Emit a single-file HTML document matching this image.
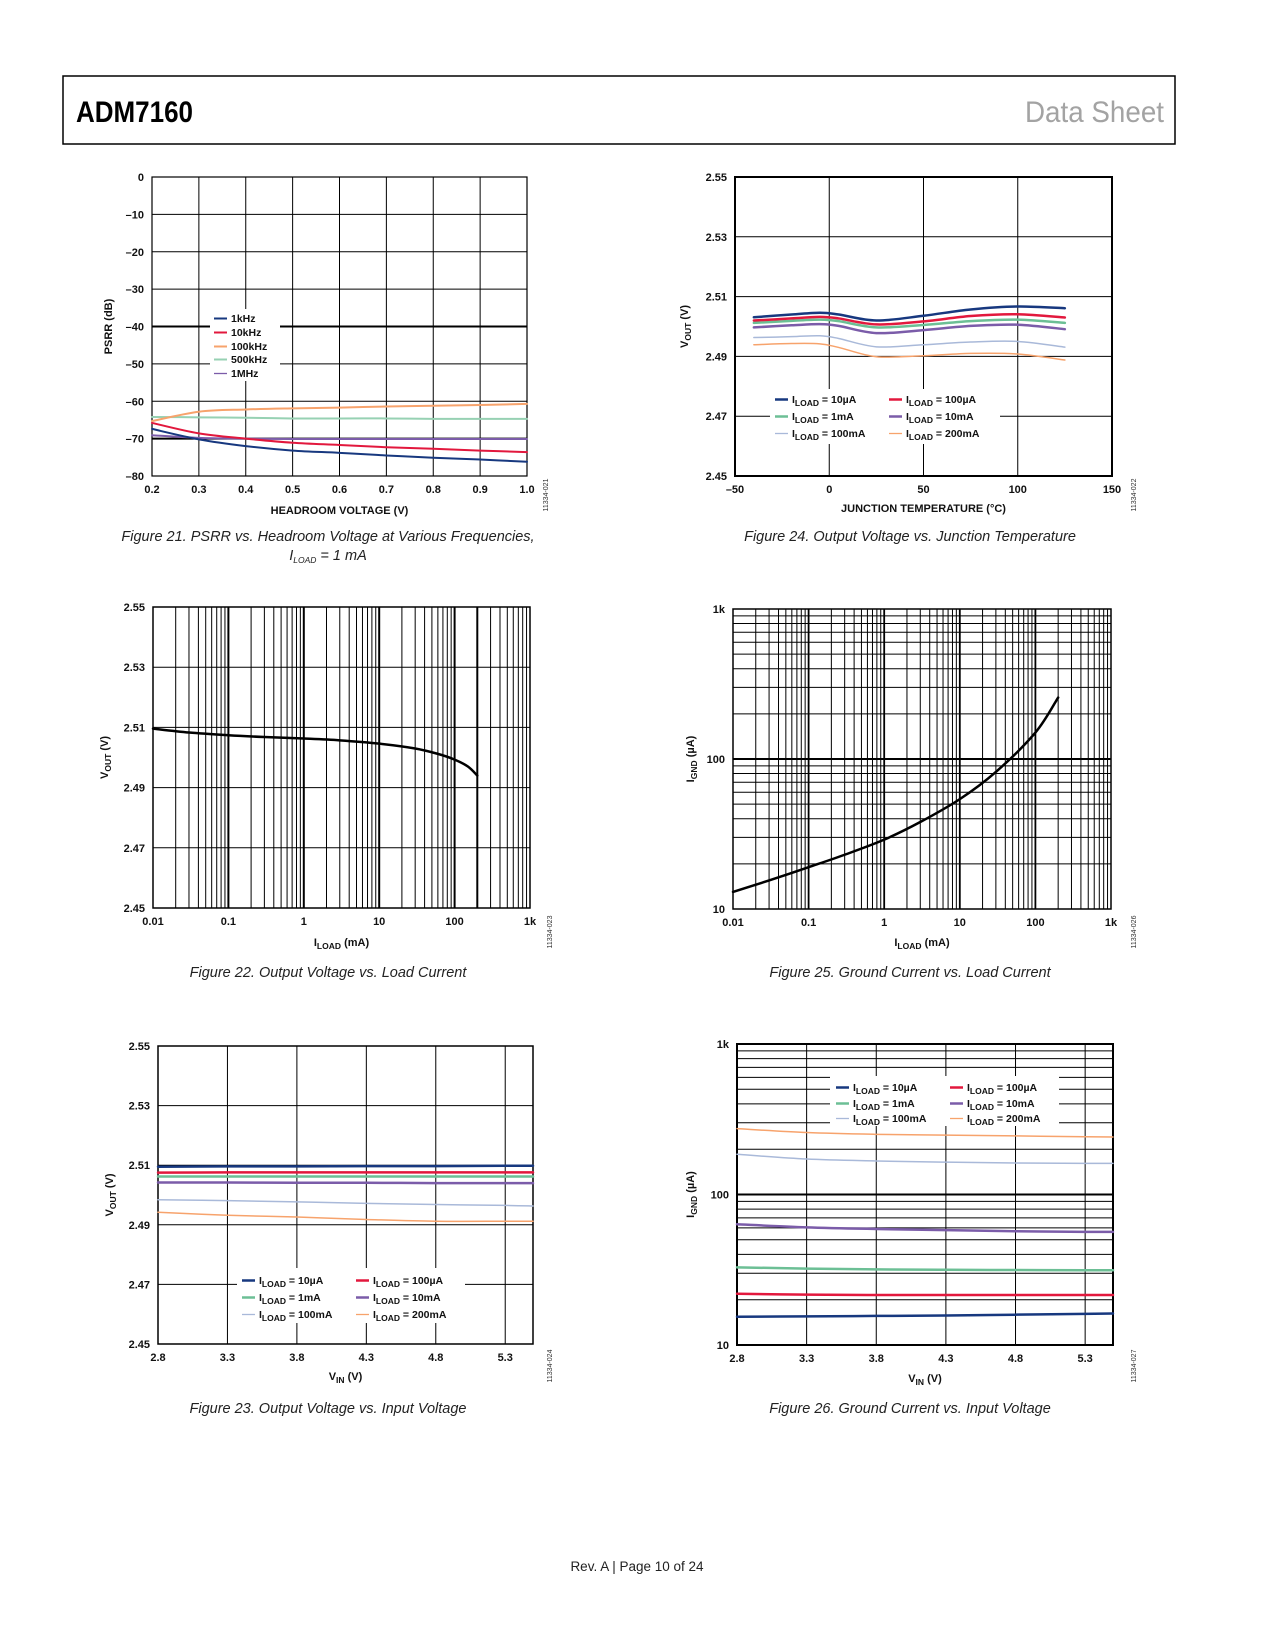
<!DOCTYPE html>
<html><head><meta charset="utf-8"><style>
html,body{margin:0;padding:0;background:#fff;}
svg{display:block;font-family:"Liberation Sans",Arial,sans-serif;}
.t{font-size:11px;font-weight:bold;fill:#111;}
.cap{font-size:14.5px;font-style:italic;fill:#222;}
.lg{font-size:10.5px;font-weight:bold;fill:#111;}
.id{font-size:7px;fill:#333;}
</style></head><body>
<svg id="page" width="1275" height="1650" viewBox="0 0 1275 1650" xmlns="http://www.w3.org/2000/svg">
<rect x="63" y="76" width="1112" height="68" fill="none" stroke="#000" stroke-width="1.5"/>
<text x="76" y="122" font-size="30" font-weight="bold" textLength="117" lengthAdjust="spacingAndGlyphs">ADM7160</text>
<text x="1164" y="122" font-size="30" fill="#a3a3a3" text-anchor="end" textLength="139" lengthAdjust="spacingAndGlyphs">Data Sheet</text>
<text x="637" y="1571" font-size="13.5" fill="#222" text-anchor="middle">Rev. A | Page 10 of 24</text>
<g id="charts"></g>
</svg>
<script>
// ---- Figure 21 data ----
const f21X = [0.2,0.3,0.4,0.5,0.6,0.7,0.8,0.9,1.0];
const f21_1k = [-67.4,-70.2,-72,-73.2,-73.8,-74.5,-75.1,-75.6,-76.2];
const f21_10k = [-65.8,-68.6,-70,-71.1,-71.7,-72.3,-72.7,-73.2,-73.6];
const f21_100k = [-65.3,-62.8,-62.2,-61.9,-61.7,-61.4,-61.2,-61,-60.7];
const f21_500k = [-64.2,-64.3,-64.4,-64.6,-64.6,-64.6,-64.7,-64.7,-64.7];
const f21_1M = [-69.1,-69.8,-70,-70.1,-70.1,-70.1,-70.1,-70.1,-70.1];
const f21YTicks = ["0","–10","–20","–30","–40","–50","–60","–70","–80"];
const f21XTicks = ["0.2","0.3","0.4","0.5","0.6","0.7","0.8","0.9","1.0"];
// ---- Figure 24 data ----
const f24X = [-40,-20,-5,5,25,50,75,100,125];
const f24_10u = [2.5031,2.5040,2.5046,2.5040,2.5020,2.5036,2.5057,2.5067,2.5061];
const f24_100u = [2.5020,2.5027,2.5032,2.5027,2.5007,2.5017,2.5035,2.5041,2.5030];
const f24_1m = [2.5012,2.5019,2.5023,2.5018,2.4997,2.5005,2.5018,2.5023,2.5012];
const f24_10m = [2.4997,2.5004,2.5008,2.5002,2.4978,2.4988,2.5002,2.5006,2.4991];
const f24_100m = [2.4963,2.4966,2.4969,2.4960,2.4932,2.4939,2.4948,2.4950,2.4931];
const f24_200m = [2.4939,2.4943,2.4942,2.4930,2.4899,2.4902,2.4910,2.4908,2.4888];
const f24XTicks = ["–50","0","50","100","150"];
const vYTicks = ["2.55","2.53","2.51","2.49","2.47","2.45"];
// ---- Figure 22 data ----
const f22X = [0.01,0.03,0.1,0.3,1,3,10,30,60,100,150,200];
const f22V = [2.5096,2.5083,2.5074,2.5068,2.5063,2.5057,2.5046,2.5030,2.5012,2.4993,2.4970,2.4940];
const logXTicks = ["0.01","0.1","1","10","100","1k"];
// ---- Figure 25 data ----
const f25X = [0.01,0.03,0.1,0.3,1,3,10,30,100,200];
const f25I = [13,15.5,19,23,29,38,54,82,150,257];
const logYTicks = ["1k","100","10"];
// ---- Figure 23 data ----
const vinX = [2.8,3.3,3.8,4.3,4.8,5.3,5.5];
const f23_10u = [2.5095,2.5096,2.5096,2.5097,2.5097,2.5098,2.5098];
const f23_100u = [2.5075,2.5076,2.5076,2.5076,2.5076,2.5076,2.5076];
const f23_1m = [2.5062,2.5062,2.5062,2.5062,2.5062,2.5062,2.5062];
const f23_10m = [2.5042,2.5042,2.5041,2.5041,2.5040,2.5040,2.5040];
const f23_100m = [2.4984,2.4981,2.4977,2.4972,2.4968,2.4965,2.4963];
const f23_200m = [2.4942,2.4932,2.4926,2.4918,2.4912,2.4912,2.4912];
const vinXTicks = ["2.8","3.3","3.8","4.3","4.8","5.3"];
// ---- Figure 26 data ----
const f26_10u = [15.4,15.5,15.6,15.7,15.9,16.1,16.2];
const f26_100u = [21.9,21.6,21.5,21.5,21.5,21.5,21.5];
const f26_1m = [32.8,32.2,31.8,31.6,31.5,31.4,31.4];
const f26_10m = [63.4,60.5,59,58,57,56.5,56.4];
const f26_100m = [185,172,167,164,162,161,161];
const f26_200m = [274,258,251,248,245,242,241];

const NS="http://www.w3.org/2000/svg";
const root=document.getElementById('charts');
function mk(tag,attrs,parent){const e=document.createElementNS(NS,tag);for(const k in attrs)e.setAttribute(k,attrs[k]);(parent||root).appendChild(e);return e;}
function linS(d0,d1,r0,r1){return v=>r0+(v-d0)/(d1-d0)*(r1-r0);}
function logS(d0,d1,r0,r1){const a=Math.log10(d0),b=Math.log10(d1);return v=>r0+(Math.log10(v)-a)/(b-a)*(r1-r0);}

const NAVY="#17387f",RED="#e2183d",ORANGE="#f7a36c",GREEN="#6cbf95",LGREEN="#97d1b3",PURPLE="#7b5ca9",LBLUE="#a9b9d9";

function gline(g,x1,y1,x2,y2,w,name){
  const l=mk('line',{x1:x1,y1:y1,x2:x2,y2:y2,stroke:'#000','stroke-width':w},g);
  
  
  return l;
}
function txt(g,x,y,s,cls,anchor,name){
  const t=mk('text',{x:x,y:y,class:cls,'text-anchor':anchor||'start'},g);
  t.textContent=s;
  
  
  return t;
}
function series(g,xs,ys,sx,sy,color,w,name,smooth){
  const P=xs.map((x,i)=>[sx(x),sy(ys[i])]);
  let d='M'+P[0][0].toFixed(2)+' '+P[0][1].toFixed(2);
  for(let i=0;i<P.length-1;i++){
    if(smooth){
      const p0=P[i-1]||P[i],p1=P[i],p2=P[i+1],p3=P[i+2]||P[i+1];
      const c1=[p1[0]+(p2[0]-p0[0])/6,p1[1]+(p2[1]-p0[1])/6];
      const c2=[p2[0]-(p3[0]-p1[0])/6,p2[1]-(p3[1]-p1[1])/6];
      d+='C'+c1[0].toFixed(2)+' '+c1[1].toFixed(2)+' '+c2[0].toFixed(2)+' '+c2[1].toFixed(2)+' '+p2[0].toFixed(2)+' '+p2[1].toFixed(2);
    } else d+='L'+P[i+1][0].toFixed(2)+' '+P[i+1][1].toFixed(2);
  }
  const p=mk('path',{d:d,fill:'none',stroke:color,'stroke-width':w,'stroke-linejoin':'round','stroke-linecap':'round'},g);
  
  
}
function frame(g,x0,y0,x1,y1,w){
  const r=mk('rect',{x:x0,y:y0,width:x1-x0,height:y1-y0,fill:'none',stroke:'#000','stroke-width':w},g);
  
  
}
function group(name){
  const g=mk('g',{});
  
  
  return g;
}
function subLabel(g,x,y,pre,sub,post,cls,anchor,rot,name){
  const t=mk('text',{x:x,y:y,class:cls,'text-anchor':anchor||'start'},g);
  if(rot)t.setAttribute('transform','rotate(-90 '+x+' '+y+')');
  
  
  const a=mk('tspan',{},t);a.textContent=pre;
  const b=mk('tspan',{dy:3,'font-size':'8.5px'},t);b.textContent=sub;
  const c=mk('tspan',{dy:-3},t);c.textContent=post;
  return t;
}
function legendBox(g,x,y,w,h){
  const r=mk('rect',{x:x,y:y,width:w,height:h,fill:'#fff'},g);
  
  
}
function legEntry(g,x,y,color,w,pre,sub,post,name){
  const l=mk('line',{x1:x,y1:y-3.5,x2:x+13,y2:y-3.5,stroke:color,'stroke-width':w},g);
  
  
  if(sub) subLabel(g,x+17,y,pre,sub,post,'lg','start',false,name+'-label');
  else txt(g,x+17,y,pre,'lg','start',name+'-label');
}
function logMinor(from,to){const a=[];for(let d=from;d<to;d*=10)for(let k=1;k<=9;k++)a.push(d*k);a.push(to);return a;}

// ================= Figure 21 =================
(function(){
  const g=group('figure-21-psrr-chart');
  const X0=152,X1=527,Y0=177,Y1=476;
  const sx=linS(0.2,1.0,X0,X1), sy=linS(-80,0,Y1,Y0);
  f21XTicks.forEach((s,i)=>{gline(g,sx(+s),Y0,sx(+s),Y1,1,'x-gridline');txt(g,sx(+s),Y1+17,s,'t','middle','x-tick-label');});
  f21YTicks.forEach((s,i)=>{const v=+s.replace('–','-');gline(g,X0,sy(v),X1,sy(v),(v==-40||v==-70)?2:1,'y-gridline');txt(g,X0-8,sy(v)+4,s,'t','end','y-tick-label');});
  frame(g,X0,Y0,X1,Y1,1.2);
  series(g,f21X,f21_500k,sx,sy,LGREEN,2,'series-500khz',true);
  series(g,f21X,f21_1M,sx,sy,PURPLE,2,'series-1mhz',true);
  series(g,f21X,f21_100k,sx,sy,ORANGE,2,'series-100khz',true);
  series(g,f21X,f21_10k,sx,sy,RED,2,'series-10khz',true);
  series(g,f21X,f21_1k,sx,sy,NAVY,2,'series-1khz',true);
  legendBox(g,210,309,70,72);
  legEntry(g,214,322,NAVY,2,'1kHz',null,null,'legend-1khz');
  legEntry(g,214,336,RED,2,'10kHz',null,null,'legend-10khz');
  legEntry(g,214,350,ORANGE,2,'100kHz',null,null,'legend-100khz');
  legEntry(g,214,363,LGREEN,2,'500kHz',null,null,'legend-500khz');
  legEntry(g,214,377,PURPLE,1.3,'1MHz',null,null,'legend-1mhz');
  txt(g,(X0+X1)/2,514,'HEADROOM VOLTAGE (V)','t','middle','x-axis-title');
  const yt=txt(g,112,(Y0+Y1)/2,'PSRR (dB)','t','middle','y-axis-title');yt.setAttribute('transform','rotate(-90 112 '+((Y0+Y1)/2)+')');
  const id=txt(g,548,495,'11334-021','id','middle','figure-id');id.setAttribute('transform','rotate(-90 548 495)');
  txt(g,328,541,'Figure 21. PSRR vs. Headroom Voltage at Various Frequencies,','cap','middle','figure-21-caption');
  subLabel(g,328,560,'I','LOAD',' = 1 mA','cap','middle',false,'figure-21-caption-line2');
})();

// ================= Figure 24 =================
(function(){
  const g=group('figure-24-vout-vs-temp-chart');
  const X0=735,X1=1112,Y0=177,Y1=476;
  const sx=linS(-50,150,X0,X1), sy=linS(2.45,2.55,Y1,Y0);
  f24XTicks.forEach(s=>{const v=+s.replace('–','-');gline(g,sx(v),Y0,sx(v),Y1,1,'x-gridline');txt(g,sx(v),Y1+17,s,'t','middle','x-tick-label');});
  vYTicks.forEach(s=>{gline(g,X0,sy(+s),X1,sy(+s),1,'y-gridline');txt(g,X0-8,sy(+s)+4,s,'t','end','y-tick-label');});
  frame(g,X0,Y0,X1,Y1,2);
  series(g,f24X,f24_200m,sx,sy,ORANGE,1.5,'series-200ma',true);
  series(g,f24X,f24_100m,sx,sy,LBLUE,1.5,'series-100ma',true);
  series(g,f24X,f24_10m,sx,sy,PURPLE,2.5,'series-10ma',true);
  series(g,f24X,f24_1m,sx,sy,GREEN,2.5,'series-1ma',true);
  series(g,f24X,f24_100u,sx,sy,RED,2.5,'series-100ua',true);
  series(g,f24X,f24_10u,sx,sy,NAVY,2.5,'series-10ua',true);
  legendBox(g,770,389,230,55);
  legEntry(g,775,403,NAVY,2.5,'I','LOAD',' = 10µA','legend-10ua');
  legEntry(g,889,403,RED,2.5,'I','LOAD',' = 100µA','legend-100ua');
  legEntry(g,775,420,GREEN,2.5,'I','LOAD',' = 1mA','legend-1ma');
  legEntry(g,889,420,PURPLE,2.5,'I','LOAD',' = 10mA','legend-10ma');
  legEntry(g,775,437,LBLUE,1.3,'I','LOAD',' = 100mA','legend-100ma');
  legEntry(g,889,437,ORANGE,1.3,'I','LOAD',' = 200mA','legend-200ma');
  txt(g,(X0+X1)/2,512,'JUNCTION TEMPERATURE (°C)','t','middle','x-axis-title');
  subLabel(g,688,(Y0+Y1)/2,'V','OUT',' (V)','t','middle',true,'y-axis-title');
  const id=txt(g,1136,495,'11334-022','id','middle','figure-id');id.setAttribute('transform','rotate(-90 1136 495)');
  txt(g,910,541,'Figure 24. Output Voltage vs. Junction Temperature','cap','middle','figure-24-caption');
})();

// ================= Figure 22 =================
(function(){
  const g=group('figure-22-vout-vs-load-chart');
  const X0=153,X1=530,Y0=607,Y1=908;
  const sx=logS(0.01,1000,X0,X1), sy=linS(2.45,2.55,Y1,Y0);
  logMinor(0.01,1000).forEach(v=>gline(g,sx(v),Y0,sx(v),Y1,1,'x-gridline'));
  [0.1,1,10,100,200].forEach(v=>gline(g,sx(v),Y0,sx(v),Y1,2,'x-major-gridline'));
  vYTicks.forEach(s=>{gline(g,X0,sy(+s),X1,sy(+s),1,'y-gridline');txt(g,X0-8,sy(+s)+4,s,'t','end','y-tick-label');});
  logXTicks.forEach((s,i)=>{const v=0.01*Math.pow(10,i);txt(g,sx(v),Y1+17,s,'t','middle','x-tick-label');});
  frame(g,X0,Y0,X1,Y1,1.5);
  series(g,f22X,f22V,sx,sy,'#000',2.5,'series-vout',true);
  subLabel(g,(X0+X1)/2,946,'I','LOAD',' (mA)','t','middle',false,'x-axis-title');
  subLabel(g,108,(Y0+Y1)/2,'V','OUT',' (V)','t','middle',true,'y-axis-title');
  const id=txt(g,552,932,'11334-023','id','middle','figure-id');id.setAttribute('transform','rotate(-90 552 932)');
  txt(g,328,977,'Figure 22. Output Voltage vs. Load Current','cap','middle','figure-22-caption');
})();

// ================= Figure 25 =================
(function(){
  const g=group('figure-25-ignd-vs-load-chart');
  const X0=733,X1=1111,Y0=609,Y1=909;
  const sx=logS(0.01,1000,X0,X1), sy=logS(10,1000,Y1,Y0);
  logMinor(0.01,1000).forEach(v=>gline(g,sx(v),Y0,sx(v),Y1,1,'x-gridline'));
  logMinor(10,1000).forEach(v=>gline(g,X0,sy(v),X1,sy(v),1,'y-gridline'));
  [0.1,1,10,100].forEach(v=>gline(g,sx(v),Y0,sx(v),Y1,1.8,'x-major-gridline'));
  gline(g,X0,sy(100),X1,sy(100),2,'y-major-gridline');
  logXTicks.forEach((s,i)=>{const v=0.01*Math.pow(10,i);txt(g,sx(v),Y1+17,s,'t','middle','x-tick-label');});
  logYTicks.forEach((s,i)=>{const v=1000/Math.pow(10,i);txt(g,X0-8,sy(v)+4,s,'t','end','y-tick-label');});
  frame(g,X0,Y0,X1,Y1,1.5);
  series(g,f25X,f25I,sx,sy,'#000',2.5,'series-ignd',true);
  subLabel(g,(X0+X1)/2,946,'I','LOAD',' (mA)','t','middle',false,'x-axis-title');
  subLabel(g,694,(Y0+Y1)/2,'I','GND',' (µA)','t','middle',true,'y-axis-title');
  const id=txt(g,1136,932,'11334-026','id','middle','figure-id');id.setAttribute('transform','rotate(-90 1136 932)');
  txt(g,910,977,'Figure 25. Ground Current vs. Load Current','cap','middle','figure-25-caption');
})();

// ================= Figure 23 =================
(function(){
  const g=group('figure-23-vout-vs-vin-chart');
  const X0=158,X1=533,Y0=1046,Y1=1344;
  const sx=linS(2.8,5.5,X0,X1), sy=linS(2.45,2.55,Y1,Y0);
  vinXTicks.forEach(s=>{gline(g,sx(+s),Y0,sx(+s),Y1,1,'x-gridline');txt(g,sx(+s),Y1+17,s,'t','middle','x-tick-label');});
  vYTicks.forEach(s=>{gline(g,X0,sy(+s),X1,sy(+s),1,'y-gridline');txt(g,X0-8,sy(+s)+4,s,'t','end','y-tick-label');});
  frame(g,X0,Y0,X1,Y1,1.5);
  series(g,vinX,f23_200m,sx,sy,ORANGE,1.5,'series-200ma',true);
  series(g,vinX,f23_100m,sx,sy,LBLUE,1.5,'series-100ma',true);
  series(g,vinX,f23_10m,sx,sy,PURPLE,2.5,'series-10ma',true);
  series(g,vinX,f23_1m,sx,sy,GREEN,2.5,'series-1ma',true);
  series(g,vinX,f23_100u,sx,sy,RED,2.5,'series-100ua',true);
  series(g,vinX,f23_10u,sx,sy,NAVY,2.5,'series-10ua',true);
  legendBox(g,237,1268,228,55);
  legEntry(g,242,1284,NAVY,2.5,'I','LOAD',' = 10µA','legend-10ua');
  legEntry(g,356,1284,RED,2.5,'I','LOAD',' = 100µA','legend-100ua');
  legEntry(g,242,1301,GREEN,2.5,'I','LOAD',' = 1mA','legend-1ma');
  legEntry(g,356,1301,PURPLE,2.5,'I','LOAD',' = 10mA','legend-10ma');
  legEntry(g,242,1318,LBLUE,1.3,'I','LOAD',' = 100mA','legend-100ma');
  legEntry(g,356,1318,ORANGE,1.3,'I','LOAD',' = 200mA','legend-200ma');
  subLabel(g,(X0+X1)/2,1380,'V','IN',' (V)','t','middle',false,'x-axis-title');
  subLabel(g,113,(Y0+Y1)/2,'V','OUT',' (V)','t','middle',true,'y-axis-title');
  const id=txt(g,552,1366,'11334-024','id','middle','figure-id');id.setAttribute('transform','rotate(-90 552 1366)');
  txt(g,328,1413,'Figure 23. Output Voltage vs. Input Voltage','cap','middle','figure-23-caption');
})();

// ================= Figure 26 =================
(function(){
  const g=group('figure-26-ignd-vs-vin-chart');
  const X0=737,X1=1113,Y0=1044,Y1=1345;
  const sx=linS(2.8,5.5,X0,X1), sy=logS(10,1000,Y1,Y0);
  vinXTicks.forEach(s=>{gline(g,sx(+s),Y0,sx(+s),Y1,1,'x-gridline');txt(g,sx(+s),Y1+17,s,'t','middle','x-tick-label');});
  logMinor(10,1000).forEach(v=>gline(g,X0,sy(v),X1,sy(v),1,'y-gridline'));
  gline(g,X0,sy(100),X1,sy(100),2,'y-major-gridline');
  logYTicks.forEach((s,i)=>{const v=1000/Math.pow(10,i);txt(g,X0-8,sy(v)+4,s,'t','end','y-tick-label');});
  frame(g,X0,Y0,X1,Y1,2);
  series(g,vinX,f26_200m,sx,sy,ORANGE,1.5,'series-200ma',true);
  series(g,vinX,f26_100m,sx,sy,LBLUE,1.5,'series-100ma',true);
  series(g,vinX,f26_10m,sx,sy,PURPLE,2.5,'series-10ma',true);
  series(g,vinX,f26_1m,sx,sy,GREEN,2.5,'series-1ma',true);
  series(g,vinX,f26_100u,sx,sy,RED,2.5,'series-100ua',true);
  series(g,vinX,f26_10u,sx,sy,NAVY,2.5,'series-10ua',true);
  legendBox(g,830,1076,229,50);
  legEntry(g,836,1091,NAVY,2.5,'I','LOAD',' = 10µA','legend-10ua');
  legEntry(g,950,1091,RED,2.5,'I','LOAD',' = 100µA','legend-100ua');
  legEntry(g,836,1107,GREEN,2.5,'I','LOAD',' = 1mA','legend-1ma');
  legEntry(g,950,1107,PURPLE,2.5,'I','LOAD',' = 10mA','legend-10ma');
  legEntry(g,836,1122,LBLUE,1.3,'I','LOAD',' = 100mA','legend-100ma');
  legEntry(g,950,1122,ORANGE,1.3,'I','LOAD',' = 200mA','legend-200ma');
  subLabel(g,(X0+X1)/2,1382,'V','IN',' (V)','t','middle',false,'x-axis-title');
  subLabel(g,694,(Y0+Y1)/2,'I','GND',' (µA)','t','middle',true,'y-axis-title');
  const id=txt(g,1136,1366,'11334-027','id','middle','figure-id');id.setAttribute('transform','rotate(-90 1136 1366)');
  txt(g,910,1413,'Figure 26. Ground Current vs. Input Voltage','cap','middle','figure-26-caption');
})();
</script>
</body></html>
